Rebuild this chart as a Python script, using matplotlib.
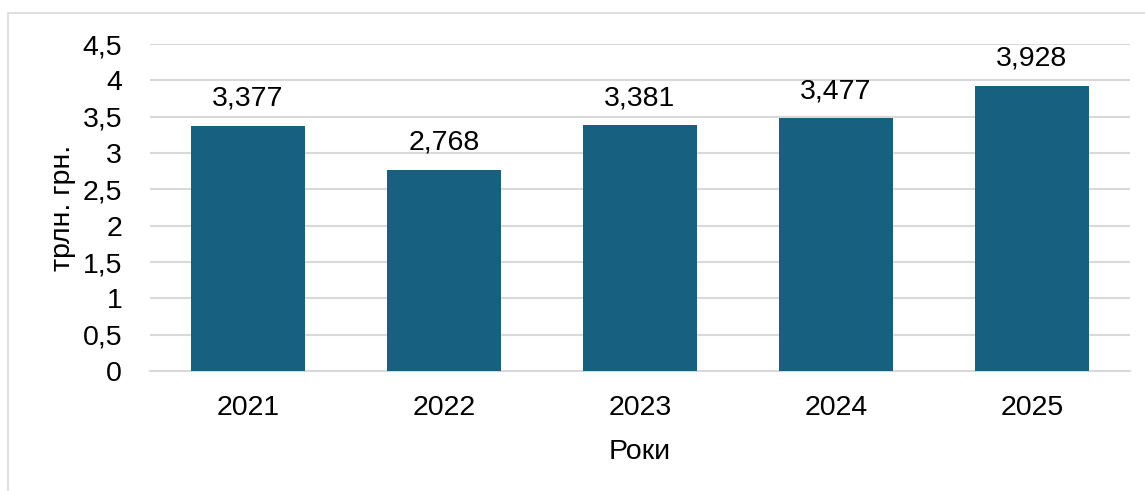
import matplotlib.pyplot as plt
from matplotlib.patches import Rectangle

years = ['2021', '2022', '2023', '2024', '2025']
values = [3.377, 2.768, 3.381, 3.477, 3.928]
labels = ['3,377', '2,768', '3,381', '3,477', '3,928']
yticks = [0, 0.5, 1, 1.5, 2, 2.5, 3, 3.5, 4, 4.5]
ytick_labels = ['0', '0,5', '1', '1,5', '2', '2,5', '3', '3,5', '4', '4,5']

plt.rcParams['font.family'] = ['Liberation Sans', 'DejaVu Sans']
fs = 20.5

fig = plt.figure(figsize=(11.45, 4.91), dpi=100)
ax = fig.add_axes([150 / 1145, 1 - 371 / 491, 980 / 1145, 327 / 491])

# outer chart border
fig.patches.append(Rectangle((8 / 1145, -0.05), 1.1, 1 - 13 / 491 + 0.05,
                             transform=fig.transFigure, fill=False,
                             edgecolor='#d9d9d9', linewidth=1.2))

x = range(len(years))
ax.bar(x, values, width=0.58, color='#17607f', zorder=3)
for i, v in enumerate(values):
    ax.annotate(labels[i], (i, v), xytext=(0, 10), textcoords='offset points',
                ha='center', va='bottom', fontsize=fs)

ax.set_xlim(-0.5, len(years) - 0.5)
ax.set_ylim(0, 4.5)
ax.set_yticks(yticks)
ax.set_yticklabels(ytick_labels)
ax.set_xticks(list(x))
ax.set_xticklabels(years)
ax.tick_params(axis='both', length=0, labelsize=fs)
ax.tick_params(axis='x', pad=17)
ax.tick_params(axis='y', pad=20)

ax.grid(axis='y', color='#d9d9d9', linewidth=1.5, zorder=0)
for s in ['top', 'right', 'left']:
    ax.spines[s].set_visible(False)
ax.spines['bottom'].set_color('#d9d9d9')
ax.spines['bottom'].set_linewidth(1.5)

ax.set_xlabel('Роки', fontsize=fs, labelpad=13)
ax.set_ylabel('трлн. грн.', fontsize=fs, labelpad=5)

plt.savefig('out.png', dpi=100)
